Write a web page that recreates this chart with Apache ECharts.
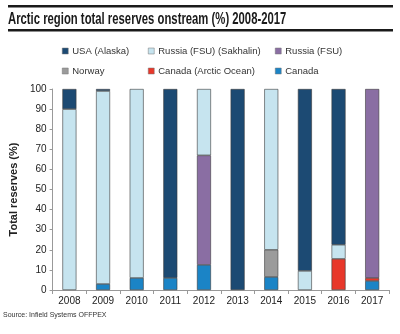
<!DOCTYPE html>
<html><head><meta charset="utf-8">
<script src="https://cdn.jsdelivr.net/npm/echarts@6/dist/echarts.min.js"></script>
<style>html,body{margin:0;padding:0;background:#fff}#c{width:400px;height:334px}</style>
</head><body><div id="c"></div>
<script>
const years = ['2008','2009','2010','2011','2012','2013','2014','2015','2016','2017'];
const canada        = [0, 3, 6, 6, 12.5, 0, 6.5, 0, 0, 4.5];
const canadaArctic  = [0, 0, 0, 0, 0, 0, 0, 0, 15.5, 1.5];
const norway        = [0, 0, 0, 0, 0, 0, 13.5, 0, 0, 0];
const russiaFSU     = [0, 0, 0, 0, 54.5, 0, 0, 0, 0, 94];
const sakhalin      = [90, 96, 94, 0, 33, 0, 80, 9.5, 7, 0];
const usa           = [10, 1, 0, 94, 0, 100, 0, 90.5, 77.5, 0];
const yTicks = [0,10,20,30,40,50,60,70,80,90,100];

const colors = {
  'USA (Alaska)': '#1c4a73',
  'Russia (FSU) (Sakhalin)': '#c6e4ef',
  'Russia (FSU)': '#8a6ea3',
  'Norway': '#9b9b9b',
  'Canada (Arctic Ocean)': '#e8372a',
  'Canada': '#1b84c6'
};
const seriesDefs = [
  ['Canada', canada],
  ['Canada (Arctic Ocean)', canadaArctic],
  ['Norway', norway],
  ['Russia (FSU)', russiaFSU],
  ['Russia (FSU) (Sakhalin)', sakhalin],
  ['USA (Alaska)', usa]
];
const legendPos = [
  ['USA (Alaska)', 57, 41],
  ['Russia (FSU) (Sakhalin)', 143, 41],
  ['Russia (FSU)', 270, 41],
  ['Norway', 57, 61],
  ['Canada (Arctic Ocean)', 143, 61],
  ['Canada', 270, 61]
];
const chart = echarts.init(document.getElementById('c'), null, {renderer:'canvas'});
const font = 'Liberation Sans, Arial, sans-serif';
chart.setOption({
  animation: false,
  textStyle: {fontFamily: font},
  graphic: [
    {type:'rect', left: 8, top: 5, shape:{width: 385, height: 2.5}, style:{fill:'#1a1a1a'}},
    {type:'rect', left: 8, top: 29, shape:{width: 385, height: 2.5}, style:{fill:'#1a1a1a'}},
    {type:'text', x: 8, y: 11, scaleX: 0.665, style:{text:'Arctic region total reserves onstream (%) 2008-2017', fill:'#1a1a1a', font:'bold 17px Liberation Sans, Arial, sans-serif'}},
    {type:'text', left: 3, top: 312, style:{text:'Source: Infield Systems OFFPEX', fill:'#333', font:'7px Liberation Sans, Arial, sans-serif'}}
  ],
  legend: legendPos.map(([n,x,y]) => ({
    data: [n], left: x, top: y, itemWidth: 6, itemHeight: 6, itemGap: 0,
    icon: 'rect', selectedMode: false,
    textStyle: {fontSize: 9.5, color: '#333', fontFamily: font, padding:[0,0,0,-1]},
    itemStyle: {borderColor: '#777', borderWidth: 0.5}
  })),
  grid: {left: 40, right: 11, top: 89, bottom: 44},
  xAxis: {
    type: 'category', data: years,
    axisLine: {lineStyle: {color: '#999'}},
    axisTick: {show: true, length: 4, lineStyle: {color: '#999'}},
    axisLabel: {color: '#222', fontSize: 10, margin: 6}
  },
  yAxis: {
    type: 'value', min: 0, max: 100, interval: 10,
    name: 'Total reserves (%)', nameLocation: 'middle', nameGap: 25, nameRotate: 90,
    nameTextStyle: {fontWeight: 'bold', fontSize: 11, color: '#222'},
    axisLine: {show: true, lineStyle: {color: '#999'}},
    axisTick: {show: true, length: 3, lineStyle: {color: '#999'}},
    splitLine: {show: false},
    axisLabel: {color: '#222', fontSize: 10, margin: 6,
      formatter: v => yTicks.includes(v) ? String(v) : ''}
  },
  series: seriesDefs.map(([n, d]) => ({
    name: n, type: 'bar', stack: 'total', data: d.map(v => v === 0 ? '-' : v), barWidth: 14,
    itemStyle: {color: colors[n], borderColor: '#3a3a3a', borderWidth: 0.6},
    emphasis: {disabled: true}
  }))
});
</script></body></html>
